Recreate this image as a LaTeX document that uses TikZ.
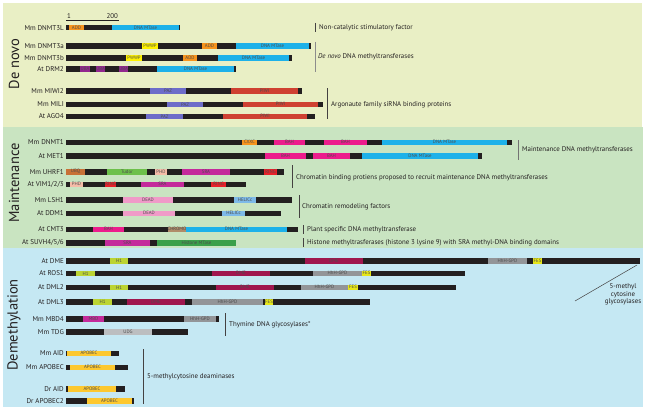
\documentclass[tikz,border=0pt]{standalone}
\usepackage{fontspec}
\setmainfont{PT Sans}
\usepackage{tikz}

\definecolor{denovobg}{HTML}{E9EFC5}
\definecolor{maintbg}{HTML}{C9E4C1}
\definecolor{demethbg}{HTML}{C5E8F3}
\definecolor{barblack}{HTML}{231F20}
\definecolor{mtase}{HTML}{1DB1E9}
\definecolor{add}{HTML}{F7941D}
\definecolor{pwwp}{HTML}{FFF200}
\definecolor{uba}{HTML}{92278F}
\definecolor{paz}{HTML}{6D6DC9}
\definecolor{piwi}{HTML}{CF4131}
\definecolor{cxxc}{HTML}{F7941D}
\definecolor{bah}{HTML}{EC1C8C}
\definecolor{ubq}{HTML}{C87137}
\definecolor{tudor}{HTML}{6DC04B}
\definecolor{phd}{HTML}{F5BCA8}
\definecolor{sra}{HTML}{C42A9B}
\definecolor{ring}{HTML}{E8202A}
\definecolor{dead}{HTML}{F09AC8}
\definecolor{helicc}{HTML}{7DB9E8}
\definecolor{chromo}{HTML}{B08C6A}
\definecolor{hmtase}{HTML}{3AA04A}
\definecolor{hone}{HTML}{BCD432}
\definecolor{dme}{HTML}{A0164E}
\definecolor{hhh}{HTML}{939598}
\definecolor{fes}{HTML}{E6E619}
\definecolor{mbd}{HTML}{C42A9B}
\definecolor{udg}{HTML}{BCBEC0}
\definecolor{apobec}{HTML}{FDC82F}

% one protein: name, label, y, end of bar, domains s/e/colour/text
\newcommand{\protein}[5]{%
  \node[protname] (#1) at (65,#3) {#2};
  \fill[barblack] (66,#3-2.8) rectangle (#4,#3+2.8);
  \foreach \s/\e/\c/\t in {#5} {
    \fill[fill=\c] (\s,#3-2.8) rectangle (\e,#3+2.8);
    \node[domname] at ({(\s+\e)/2},#3) {\t};
  }}

\begin{document}
\begin{tikzpicture}[
  x=1pt, y=-1pt,
  protname/.style={anchor=east, inner sep=1pt, text=barblack, font=\fontsize{7}{7.5}\selectfont},
  domname/.style={inner sep=0pt, text=black!70, font=\fontsize{4.8}{5}\selectfont},
  descr/.style={anchor=west, inner sep=0pt, text=barblack, font=\fontsize{6.9}{7.6}\selectfont},
  group/.style={rotate=90, inner sep=0pt, text=barblack, font=\fontsize{14.5}{15}\selectfont},
  bracket/.style={draw=barblack!85, line width=0.7pt}
]
  \useasboundingbox (0,0) rectangle (647,412);

  % panels
  \fill[denovobg] (3,3) rectangle (642,127);
  \fill[maintbg] (3,127) rectangle (643,248);
  \fill[demethbg] (3,248) rectangle (643,407);

  \node[group] (denovo) at (14,64) {De novo};
  \node[group] (maint) at (14,183) {Maintenance};
  \node[group] (demeth) at (14,325) {Demethylation};

  % scale
  \coordinate (sc1) at (66,20);
  \coordinate (sc2) at (119,20);
  \draw[barblack, line width=0.5pt] (sc1) -- (sc2);
  \node[descr, anchor=south west, inner sep=1pt] (one) at (sc1) {1};
  \node[descr, anchor=south east, inner sep=1pt] (twohundred) at (sc2) {200};

  % de novo
  \protein{dnmt3l}{Mm DNMT3L}{27.7}{180}{69/84/add/ADD, 112/179/mtase/DNA MTase}
  \protein{dnmt3a}{Mm DNMT3a}{46}{311}{142/158/pwwp/PWWP, 202/217/add/ADD, 236/309/mtase/DNA MTase}
  \protein{dnmt3b}{Mm DNMT3b}{57.7}{292}{126/142/pwwp/PWWP, 183/197/add/ADD, 218/289/mtase/DNA MTase}
  \protein{drm2}{At DRM2}{69}{236}{80/90/uba/UBA, 96/105/uba/UBA, 119/128/uba/UBA, 157/234/mtase/DNA MTase}
  \protein{miwi2}{Mm MIWI2}{90.7}{302}{150/186/paz/PAZ, 231/298/piwi/PIWI}
  \protein{mili}{Mm MILI}{104.3}{323}{167/203/paz/PAZ, 243/318/piwi/PIWI}
  \protein{ago4}{At AGO4}{116.3}{315}{146/183/paz/PAZ, 223/307/piwi/PIWI}

  % maintenance
  \protein{dnmt1}{Mm DNMT1}{142.3}{512}{242/257/cxxc/CXXC, 274/305/bah/BAH, 324/367/bah/BAH, 382/507/mtase/DNA MTase}
  \protein{met1}{At MET1}{155.7}{482}{265/306/bah/BAH, 313/350/bah/BAH, 362/478/mtase/DNA MTase}
  \protein{uhrf1}{Mm UHRF1}{171.7}{284}{66/85/ubq/UBQ, 107/147/tudor/Tudor, 155/167/phd/PHD, 182/230/sra/SRA, 264/277/ring/RING}
  \protein{vim}{At VIM1/2/3}{184.3}{246}{70/83/phd/PHD, 105/116/ring/RING, 141/184/sra/SRA, 211/226/ring/RING}
  \protein{lsh1}{Mm LSH1}{200}{292}{123/173/dead/DEAD, 234/256/helicc/HELICc}
  \protein{ddm1}{At DDM1}{213.3}{281}{123/175/dead/DEAD, 222/245/helicc/HELICc}
  \protein{cmt3}{At CMT3}{229.3}{298}{93/124/bah/BAH, 168/186/chromo/CHROMO, 186/287/mtase/DNA MTase}
  \protein{suvh}{At SUVH4/5/6}{242.7}{236}{105/150/sra/SRA, 157/236/hmtase/Histone MTase}

  % demethylation
  \protein{dme}{At DME}{261}{640}{110/128/hone/H1, 305/363/dme/DME, 488/527/hhh/HhH-GPD, 533/542/fes/FES}
  \protein{ros1}{At ROS1}{273.3}{465}{76/95/hone/H1, 212/270/dme/DME, 313/362/hhh/HhH-GPD, 362/371/fes/FES}
  \protein{dml2}{At DML2}{287.3}{456}{110/128/hone/H1, 216/274/dme/DME, 301/348/hhh/HhH-GPD, 348/358/fes/FES}
  \protein{dml3}{At DML3}{301.7}{370}{93/112/hone/H1, 127/185/dme/DME, 192/263/hhh/HhH-GPD, 265/273/fes/FES}
  \protein{mbd4}{Mm MBD4}{319}{219}{83/104/mbd/MBD, 184/216/hhh/HhH-GPD}
  \protein{tdg}{Mm TDG}{331.7}{188}{104/152/udg/UDG}
  \protein{mmaid}{Mm AID}{353.3}{119}{67/111/apobec/APOBEC}
  \protein{mmapobec}{Mm APOBEC}{367.3}{128}{70/115/apobec/APOBEC}
  \protein{draid}{Dr AID}{388.7}{125}{68/116/apobec/APOBEC}
  \protein{drapobec}{Dr APOBEC2}{400.7}{134}{87/132/apobec/APOBEC}

  % brackets and descriptions
  \coordinate (nc1) at (315,23);   \coordinate (nc2) at (315,32);
  \coordinate (dn1) at (315,42);   \coordinate (dn2) at (315,72);
  \coordinate (ar1) at (327,88);   \coordinate (ar2) at (327,119);
  \coordinate (mt1) at (518,140);  \coordinate (mt2) at (518,160);
  \coordinate (cb1) at (292,165);  \coordinate (cb2) at (292,188);
  \coordinate (cr1) at (299,195);  \coordinate (cr2) at (299,218);
  \coordinate (ps1) at (303,225);  \coordinate (ps2) at (303,234);
  \coordinate (hm1) at (303,238);  \coordinate (hm2) at (303,247);
  \coordinate (gl1) at (575,301);  \coordinate (gl2) at (637,265);
  \coordinate (th1) at (225,313);  \coordinate (th2) at (225,336);
  \coordinate (de1) at (143,349);  \coordinate (de2) at (143,404);

  \draw[bracket] (nc1) -- (nc2);
  \draw[bracket, draw=black!45] (dn1) -- (dn2);
  \draw[bracket] (ar1) -- (ar2);
  \draw[bracket, draw=black!55] (mt1) -- (mt2);
  \draw[bracket] (cb1) -- (cb2);
  \draw[bracket] (cr1) -- (cr2);
  \draw[bracket] (ps1) -- (ps2);
  \draw[bracket] (hm1) -- (hm2);
  \draw[bracket, line width=0.5pt] (gl1) -- (gl2);
  \draw[bracket] (th1) -- (th2);
  \draw[bracket] (de1) -- (de2);

  \node[descr] (noncat) at (319,27.7) {Non-catalytic stimulatory factor};
  \node[descr] (dnmts) at (318,57) {\textit{De novo} DNA methyltransferases};
  \node[descr] (argo) at (331,105) {Argonaute family siRNA binding proteins};
  \node[descr] (maintdnmt) at (522,150) {Maintenance DNA methyltransferases};
  \node[descr] (chrombind) at (296,178) {Chromatin binding protiens proposed to recruit maintenance DNA methyltransferases};
  \node[descr] (chromremod) at (302,207) {Chromatin remodeling factors};
  \node[descr] (plantdnmt) at (307,229.3) {Plant specific DNA methyltransferase};
  \node[descr] (histmt) at (307,242.7) {Histone methyltrasferases (histone 3 lysine 9) with SRA methyl-DNA binding domains};
  \node[descr, anchor=center, align=center] (glyco) at (623,294.5) {5-methyl\\cytosine\\glycosylases};
  \node[descr] (thymine) at (229,325) {Thymine DNA glycosylases*};
  \node[descr] (deamin) at (147,377) {5-methylcytosine deaminases};
\end{tikzpicture}
\end{document}
